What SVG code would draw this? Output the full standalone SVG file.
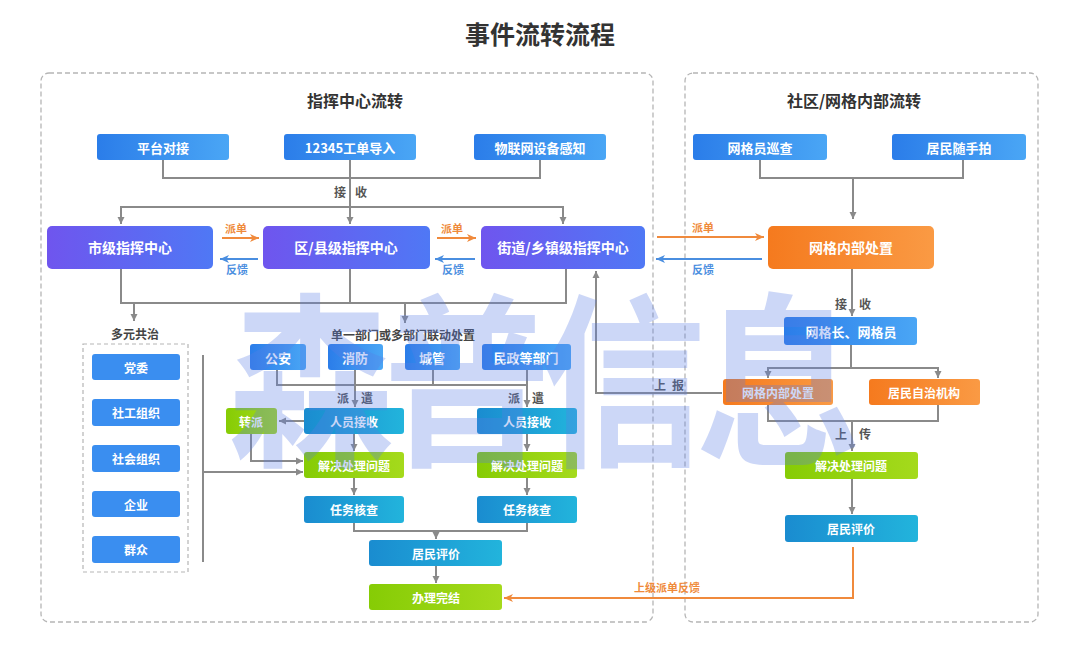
<svg xmlns="http://www.w3.org/2000/svg" width="1080" height="661" viewBox="0 0 1080 661">
<defs>
<linearGradient id="gBlue" x1="0" y1="0" x2="1" y2="0"><stop offset="0" stop-color="#2b7de9"/><stop offset="1" stop-color="#4aa6f5"/></linearGradient>
<linearGradient id="gPurple" x1="0" y1="0" x2="1" y2="0"><stop offset="0" stop-color="#6f55ee"/><stop offset="1" stop-color="#4f78f5"/></linearGradient>
<linearGradient id="gOrange" x1="0" y1="0" x2="1" y2="0"><stop offset="0" stop-color="#f57a1e"/><stop offset="1" stop-color="#fa9a44"/></linearGradient>
<linearGradient id="gGreen" x1="0" y1="0" x2="1" y2="0"><stop offset="0" stop-color="#86cc05"/><stop offset="1" stop-color="#a5da1c"/></linearGradient>
<linearGradient id="gTeal" x1="0" y1="0" x2="1" y2="0"><stop offset="0" stop-color="#1a8cd0"/><stop offset="1" stop-color="#22b4dc"/></linearGradient>
<marker id="aGray" viewBox="0 0 8 8" refX="7" refY="4" markerWidth="8" markerHeight="8" markerUnits="userSpaceOnUse" orient="auto"><path d="M0,0.5 L7,4 L0,7.5 z" fill="#8a8a8a"/></marker>
<marker id="aOrange" viewBox="0 0 10 10" refX="9" refY="5" markerWidth="10" markerHeight="10" markerUnits="userSpaceOnUse" orient="auto"><path d="M0,1 L9,5 L0,9 L2.5,5 z" fill="#f08a3c"/></marker>
<marker id="aBlue" viewBox="0 0 10 10" refX="9" refY="5" markerWidth="10" markerHeight="10" markerUnits="userSpaceOnUse" orient="auto"><path d="M0,1 L9,5 L0,9 L2.5,5 z" fill="#4a8ee0"/></marker>
</defs>
<style>
text{font-family:"Noto Sans CJK SC","Noto Sans",sans-serif;font-weight:bold;text-anchor:middle;dominant-baseline:central}
.nt{fill:#fff;font-size:12px}
.nm{fill:#fff;font-size:13px}
.nl{fill:#fff;font-size:14px}
.lbl{fill:#555;font-size:12px}
.ttl{fill:#333;font-size:16px}
.po{fill:#ef8a3a;font-size:11px}
.pb{fill:#4a8ee0;font-size:11px}
.panel{fill:none;stroke:#b5b5b5;stroke-width:1.3;stroke-dasharray:5 3}
.c{fill:none;stroke:#8a8a8a;stroke-width:2}
.ca{fill:none;stroke:#8a8a8a;stroke-width:2;marker-end:url(#aGray)}
.co{fill:none;stroke:#f08a3c;stroke-width:2;marker-end:url(#aOrange)}
.cb{fill:none;stroke:#4a8ee0;stroke-width:2;marker-end:url(#aBlue)}
</style>
<rect width="1080" height="661" fill="#fff"/>
<text x="540" y="33" style="font-size:25px;fill:#333">事件流转流程</text>

<g id="panel-left"><rect class="panel" x="41" y="73" width="612" height="549" rx="8"/><text class="ttl" x="355" y="100">指挥中心流转</text></g>
<g id="panel-right"><rect class="panel" x="685" y="73" width="353" height="549" rx="8"/><text class="ttl" x="854" y="100">社区/网格内部流转</text></g>

<g id="connectors">
<path class="c" d="M163,160 V178 H540 V160"/>
<path class="ca" d="M350,160 V224"/>
<path class="ca" d="M350,207 H121 V224"/>
<path class="ca" d="M350,207 H563 V224"/>
<path class="c" d="M121,269 V303 H566 V269"/>
<path class="c" d="M350,269 V303"/>
<path class="ca" d="M134,303 V321"/>
<path class="ca" d="M405,303 V323"/>
<path class="ca" d="M722,393 H596 V271"/>
<path class="c" d="M760,160 V178 H963 V160"/>
<path class="ca" d="M853,178 V219"/>
<path class="ca" d="M852,269 V316"/>
<path class="c" d="M851,345 V368"/>
<path class="ca" d="M851,368 H768 V378"/>
<path class="ca" d="M851,368 H938 V378"/>
<path class="c" d="M768,405 V421 H938 V405"/>
<path class="ca" d="M852,421 V451"/>
<path class="ca" d="M852,479 V514"/>
<path class="c" d="M277,370 V385 H527"/>
<path class="c" d="M433,370 V385"/>
<path class="ca" d="M355,370 V407"/>
<path class="ca" d="M527,370 V407"/>
<path class="ca" d="M304,421 H279"/>
<path class="ca" d="M354,434 V451"/>
<path class="ca" d="M527,434 V451"/>
<path class="ca" d="M251,434 V461 H303"/>
<path class="c" d="M203,355 V562"/>
<path class="ca" d="M203,472 H303"/>
<path class="ca" d="M354,478 V495"/>
<path class="ca" d="M527,478 V495"/>
<path class="c" d="M354,523 V531 H527 V523"/>
<path class="ca" d="M436,531 V539"/>
<path class="ca" d="M436,566 V583"/>
<path class="co" d="M853,547 V598 H504"/>
<path class="co" d="M222,238 H259"/>
<path class="co" d="M437,238 H476"/>
<path class="co" d="M657,237 H764"/>
<path class="cb" d="M258,259 H220"/>
<path class="cb" d="M475,259 H435"/>
<path class="cb" d="M762,259 H656"/>
<text class="lbl" x="340" y="191">接</text><text class="lbl" x="361" y="191">收</text>
<text class="lbl" x="841" y="303">接</text><text class="lbl" x="865" y="303">收</text>
<text class="lbl" x="841" y="433">上</text><text class="lbl" x="865" y="433">传</text>
<text class="lbl" x="660" y="384">上</text><text class="lbl" x="678" y="384">报</text>
<text class="lbl" x="343" y="397">派</text><text class="lbl" x="367" y="397">遣</text>
<text class="lbl" x="514" y="397">派</text><text class="lbl" x="538" y="397">遣</text>
<text class="po" x="236" y="228">派单</text><text class="pb" x="237" y="269">反馈</text>
<text class="po" x="452" y="228">派单</text><text class="pb" x="453" y="269">反馈</text>
<text class="po" x="703" y="227">派单</text><text class="pb" x="703" y="269">反馈</text>
<text class="po" x="667" y="587">上级派单反馈</text>
<text class="lbl" x="135" y="333" style="fill:#444">多元共治</text>
<text class="lbl" x="403" y="334" style="fill:#444">单一部门或多部门联动处置</text>
</g>

<g id="n-pingtai"><rect x="97" y="134" width="132" height="26" rx="3" fill="url(#gBlue)"/><text class="nm" x="163" y="147">平台对接</text></g>
<g id="n-12345"><rect x="284" y="134" width="132" height="26" rx="3" fill="url(#gBlue)"/><text class="nm" x="350" y="147">12345工单导入</text></g>
<g id="n-iot"><rect x="474" y="134" width="132" height="26" rx="3" fill="url(#gBlue)"/><text class="nm" x="540" y="147">物联网设备感知</text></g>
<g id="n-city"><rect x="47" y="226" width="166" height="43" rx="5" fill="url(#gPurple)"/><text class="nl" x="130" y="247">市级指挥中心</text></g>
<g id="n-district"><rect x="263" y="226" width="167" height="43" rx="5" fill="url(#gPurple)"/><text class="nl" x="346" y="247">区/县级指挥中心</text></g>
<g id="n-street"><rect x="481" y="226" width="164" height="43" rx="5" fill="url(#gPurple)"/><text class="nl" x="563" y="247">街道/乡镇级指挥中心</text></g>
<g id="n-grid-top"><rect x="768" y="226" width="166" height="43" rx="5" fill="url(#gOrange)"/><text class="nl" x="851" y="247">网格内部处置</text></g>
<g id="n-xuncha"><rect x="693" y="134" width="134" height="26" rx="3" fill="url(#gBlue)"/><text class="nm" x="760" y="147">网格员巡查</text></g>
<g id="n-suishoupai"><rect x="892" y="134" width="134" height="26" rx="3" fill="url(#gBlue)"/><text class="nm" x="959" y="147">居民随手拍</text></g>
<g id="n-gridlead"><rect x="784" y="317" width="133" height="28" rx="3" fill="url(#gBlue)"/><text class="nm" x="851" y="331">网格长、网格员</text></g>
<g id="n-grid-small"><rect x="723" y="379" width="110" height="26" rx="3" fill="url(#gOrange)"/><text class="nt" x="778" y="392">网格内部处置</text></g>
<g id="n-zizhi"><rect x="869" y="379" width="111" height="26" rx="3" fill="url(#gOrange)"/><text class="nt" x="924" y="392">居民自治机构</text></g>
<g id="n-solve-r"><rect x="785" y="452" width="133" height="27" rx="3" fill="url(#gGreen)"/><text class="nt" x="851" y="465">解决处理问题</text></g>
<g id="n-eval-r"><rect x="785" y="515" width="133" height="27" rx="3" fill="url(#gTeal)"/><text class="nt" x="851" y="528">居民评价</text></g>

<g id="multi-box"><rect x="83" y="344" width="105" height="228" fill="none" stroke="#b5b5b5" stroke-width="1.2" stroke-dasharray="4 3"/></g>
<g id="n-dangwei"><rect x="92" y="354" width="88" height="26" rx="3" fill="#3a8ef0"/><text class="nt" x="136" y="367">党委</text></g>
<g id="n-shegong"><rect x="92" y="399" width="88" height="27" rx="3" fill="#3a8ef0"/><text class="nt" x="136" y="412">社工组织</text></g>
<g id="n-shehui"><rect x="92" y="445" width="88" height="27" rx="3" fill="#3a8ef0"/><text class="nt" x="136" y="458">社会组织</text></g>
<g id="n-qiye"><rect x="92" y="491" width="88" height="26" rx="3" fill="#3a8ef0"/><text class="nt" x="136" y="504">企业</text></g>
<g id="n-qunzhong"><rect x="92" y="536" width="88" height="27" rx="3" fill="#3a8ef0"/><text class="nt" x="136" y="549">群众</text></g>

<g id="n-gongan"><rect x="250" y="344" width="56" height="26" rx="3" fill="url(#gBlue)"/><text class="nm" x="278" y="357">公安</text></g>
<g id="n-xiaofang"><rect x="328" y="344" width="55" height="26" rx="3" fill="url(#gBlue)"/><text class="nm" x="355" y="357">消防</text></g>
<g id="n-chengguan"><rect x="405" y="344" width="55" height="26" rx="3" fill="url(#gBlue)"/><text class="nm" x="432" y="357">城管</text></g>
<g id="n-minzheng"><rect x="482" y="344" width="89" height="26" rx="3" fill="url(#gBlue)"/><text class="nm" x="526" y="357">民政等部门</text></g>
<g id="n-zhuanpai"><rect x="226" y="408" width="51" height="26" rx="3" fill="url(#gGreen)"/><text class="nt" x="251" y="421">转派</text></g>
<g id="n-recv-l"><rect x="304" y="408" width="100" height="26" rx="3" fill="url(#gTeal)"/><text class="nt" x="354" y="421">人员接收</text></g>
<g id="n-recv-r"><rect x="477" y="408" width="100" height="26" rx="3" fill="url(#gTeal)"/><text class="nt" x="527" y="421">人员接收</text></g>
<g id="n-solve-l1"><rect x="304" y="452" width="100" height="26" rx="3" fill="url(#gGreen)"/><text class="nt" x="354" y="465">解决处理问题</text></g>
<g id="n-solve-l2"><rect x="477" y="452" width="100" height="26" rx="3" fill="url(#gGreen)"/><text class="nt" x="527" y="465">解决处理问题</text></g>
<g id="n-check-l"><rect x="304" y="496" width="100" height="27" rx="3" fill="url(#gTeal)"/><text class="nt" x="354" y="509">任务核查</text></g>
<g id="n-check-r"><rect x="477" y="496" width="100" height="27" rx="3" fill="url(#gTeal)"/><text class="nt" x="527" y="509">任务核查</text></g>
<g id="n-eval-l"><rect x="369" y="540" width="133" height="26" rx="3" fill="url(#gTeal)"/><text class="nt" x="436" y="553">居民评价</text></g>
<g id="n-done"><rect x="369" y="584" width="133" height="26" rx="3" fill="url(#gGreen)"/><text class="nt" x="436" y="597">办理完结</text></g>

<g id="watermark" opacity="0.3">
<text transform="translate(540,452) scale(1,1.12)" style="font-size:166px;fill:#5a7de6;dominant-baseline:alphabetic;letter-spacing:-10px">森普信息</text>
</g>
</svg>
